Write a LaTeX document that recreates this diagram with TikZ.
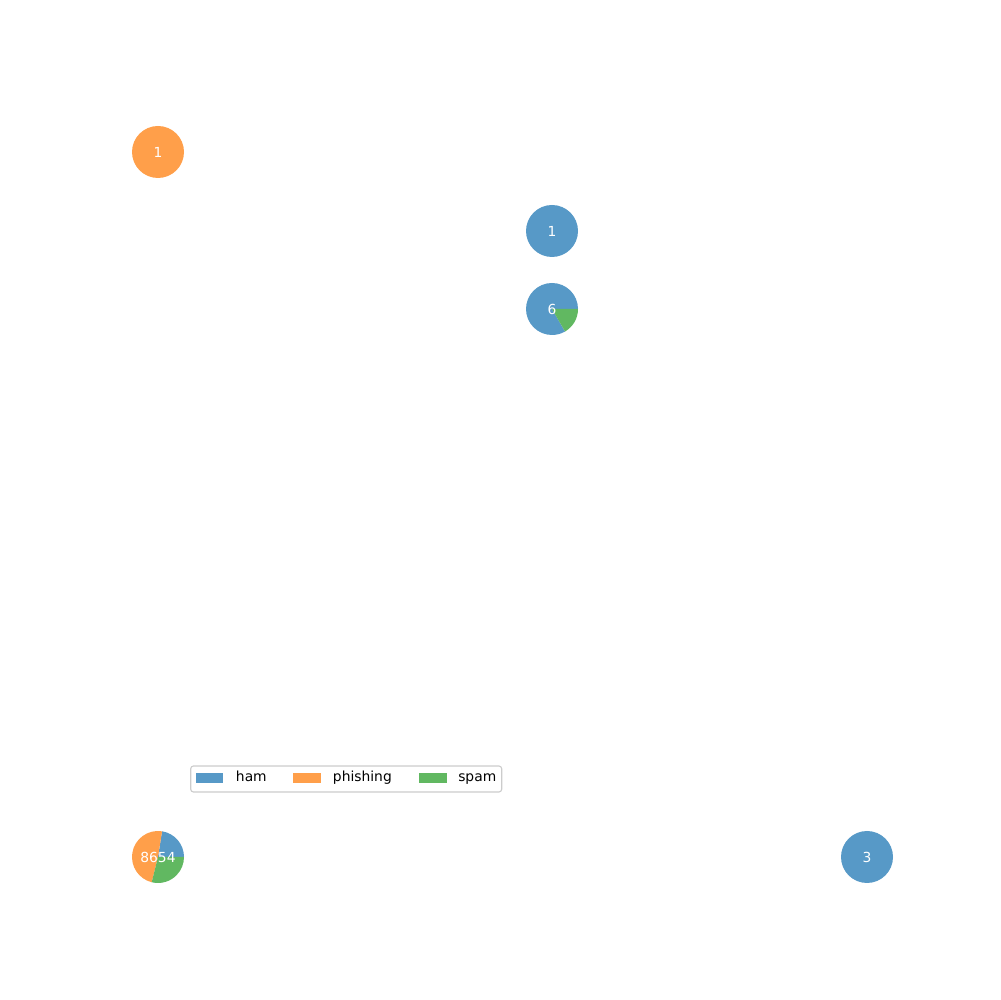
\documentclass[tikz,border=0pt]{standalone}
\usepackage{fontspec}
\setmainfont{DejaVu Sans}

\begin{document}
\begin{tikzpicture}[
    x=0.01in, y=0.01in,
    every node/.style={font=\fontsize{10}{12}\selectfont},
    count/.style={text=white, inner sep=0pt},
    key/.style={anchor=west, inner sep=0pt, text=black, text height=0.76em, text depth=0.22em},
]

% ---------------------------------------------------------------- colours
\definecolor{hamcol}{RGB}{87,153,199}     % ham
\definecolor{phishcol}{RGB}{255,159,74}   % phishing
\definecolor{spamcol}{RGB}{97,184,97}     % spam
\definecolor{framecol}{RGB}{204,204,204}

% ================================================================
% One pie per cluster, wedges counter-clockwise from east.
%   canvas  1000 x 1000, y measured upward
%   radius  26
% ================================================================

\useasboundingbox (0,0) rectangle (1000,1000);
\def\r{26}

% centre x / centre y / from / to / colour
\foreach \cx/\cy/\a/\b/\c in {%
    158/848/0/360/phishcol,
    552/769/0/360/hamcol,
    552/691/0/300/hamcol,
    552/691/300/360/spamcol,
    158/143/0/81/hamcol,
    158/143/81/256/phishcol,
    158/143/256/360/spamcol,
    867/143/0/360/hamcol%
} {
    \fill[\c] (\cx,\cy) -- ++(\a:\r) arc[start angle=\a, end angle=\b, radius=\r] -- cycle;
}

% the counts
\node[count] (pieA) at (158,848) {1};
\node[count] (pieB) at (552,769) {1};
\node[count] (pieC) at (552,691) {6};
\node[count] (pieD) at (158,143) {8654};
\node[count] (pieE) at (867,143) {3};

% ---------------------------------------------------------------- legend
\filldraw[fill=white, draw=framecol, line width=0.8pt, rounded corners=2pt]
    (190.7,208) rectangle (501.7,234);

\fill[hamcol]   (196,217.3) rectangle (222.7,227.3);
\fill[phishcol] (292.7,217.3) rectangle (321,227.3);
\fill[spamcol]  (419,217.3) rectangle (446.7,227.3);

\node[key] (keyham)   at (235.7,222) {ham};
\node[key] (keyphish) at (332.7,222) {phishing};
\node[key] (keyspam)  at (458,222) {spam};

\end{tikzpicture}
\end{document}
